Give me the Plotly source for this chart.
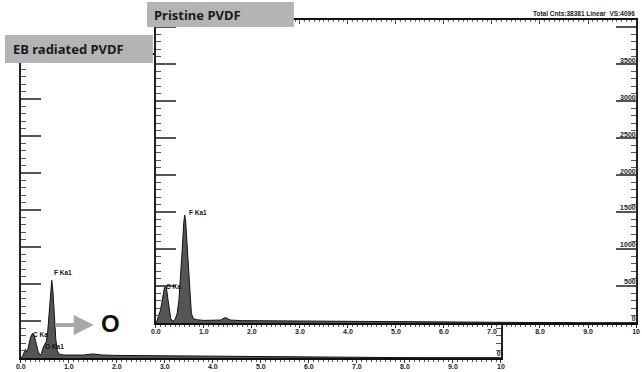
import plotly.graph_objects as go

W, H = 642, 372

# ---------------- data ----------------
# Pristine PVDF spectrum: energy (keV) and counts
pri_energy = [0.00, 0.03, 0.06, 0.09, 0.12, 0.15, 0.18, 0.20, 0.22, 0.25, 0.28, 0.31, 0.34,
              0.37, 0.40, 0.44, 0.48, 0.52, 0.55, 0.58, 0.60, 0.62, 0.65, 0.68, 0.71, 0.74,
              0.78, 0.85, 1.00, 1.20, 1.35, 1.45, 1.55, 1.80, 2.20, 2.80, 3.50, 4.20, 5.00,
              6.00, 7.00, 8.00, 9.00, 10.00]
pri_counts = [0, 40, 110, 160, 260, 390, 480, 510, 480, 330, 160, 60, 30,
              30, 50, 120, 300, 650, 1000, 1350, 1460, 1380, 1050, 650, 320, 130,
              60, 45, 35, 35, 40, 75, 40, 32, 30, 26, 24, 20, 14,
              10, 8, 6, 5, 5]

# EB radiated PVDF spectrum
eb_energy = [0.00, 0.04, 0.08, 0.10, 0.12, 0.15, 0.18, 0.22, 0.25, 0.28, 0.32, 0.36, 0.40,
             0.43, 0.47, 0.50, 0.53, 0.56, 0.59, 0.62, 0.645, 0.67, 0.70, 0.73, 0.76, 0.80,
             0.90, 1.10, 1.30, 1.50, 1.70, 2.00, 2.50, 3.00, 3.50, 4.00, 5.00, 6.00, 7.00,
             8.00, 9.00, 10.00]
eb_counts = [0, 30, 90, 120, 80, 120, 220, 310, 335, 300, 200, 90, 40,
             60, 150, 195, 220, 350, 650, 950, 1050, 900, 550, 250, 100, 50,
             40, 35, 40, 55, 40, 35, 35, 30, 25, 25, 20, 12, 8,
             5, 4, 4]

x_tickvals = [0, 1, 2, 3, 4, 5, 6, 7, 8, 9, 10]
x_ticktext = ["0.0", "1.0", "2.0", "3.0", "4.0", "5.0", "6.0", "7.0", "8.0", "9.0", "10"]
y_tickvals = [0, 500, 1000, 1500, 2000, 2500, 3000, 3500, 4000]
y_ticktext = ["0", "500", "1000", "1500", "2000", "2500", "3000", "3500", ""]

pri_title = "Pristine PVDF"
eb_title = "EB radiated PVDF"
header_text = "Total Cnts:38381 Linear  VS:4096"
# peak labels: (text, energy, counts)
pri_peaks = [("F Ka1", 0.64, 1490), ("C Ka", 0.17, 490)]
eb_peaks = [("F Ka1", 0.65, 1160), ("C Ka", 0.22, 320), ("O Ka1", 0.47, 160)]

# ---------------- helpers (pixel -> paper) ----------------
def px(x):
    return x / W

def py(y):
    return 1 - y / H

tickfont = dict(family="Liberation Sans", size=7, color="#222", weight="bold")

def xaxis_style(dom_l, dom_r, anchor):
    return dict(domain=[px(dom_l), px(dom_r)], range=[0, 10.0001], anchor=anchor,
                tickmode="array", tickvals=x_tickvals, ticktext=x_ticktext,
                ticks="outside", ticklen=3, tickwidth=1, tickcolor="#333",
                minor=dict(tickmode="linear", tick0=0, dtick=0.1, ticks="outside",
                           ticklen=2, tickwidth=1, tickcolor="#555"),
                showline=True, linewidth=2, linecolor="#111",
                showgrid=False, zeroline=False, tickfont=tickfont,
                ticklabelstandoff=-2, ticklabeloverflow="allow")

def yaxis_style(dom_b, dom_t, anchor):
    return dict(domain=[py(dom_b), py(dom_t)], range=[0, 4096], anchor=anchor,
                side="right", tickmode="array", tickvals=y_tickvals, ticktext=y_ticktext,
                ticks="inside", ticklen=20, tickwidth=1.5, tickcolor="#555",
                minor=dict(tickmode="linear", tick0=0, dtick=100, ticks="inside",
                           ticklen=5, tickwidth=1, tickcolor="#555"),
                mirror="ticks", showline=True, linewidth=1.5, linecolor="#222",
                ticklabelposition="inside", ticklabelshift=-4, ticklabelstandoff=-21,
                ticklabeloverflow="allow",
                showgrid=False, zeroline=False, tickfont=tickfont)

fig = go.Figure()
fig.add_trace(go.Scatter(x=eb_energy, y=eb_counts, mode="lines",
                         line=dict(color="#111", width=1), fill="tozeroy",
                         fillcolor="#555555", xaxis="x", yaxis="y", showlegend=False,
                         hoverinfo="skip"))
fig.add_trace(go.Scatter(x=pri_energy, y=pri_counts, mode="lines",
                         line=dict(color="#111", width=1), fill="tozeroy",
                         fillcolor="#555555", xaxis="x2", yaxis="y2", showlegend=False,
                         hoverinfo="skip"))
fig.add_trace(go.Scatter(x=[None], y=[None], mode="lines", xaxis="x3", yaxis="y2",
                         showlegend=False, hoverinfo="skip"))

xa = xaxis_style(16, 503, "y")
xa["mirror"] = True
xa2 = xaxis_style(153, 640, "y2")
xa3 = dict(overlaying="x2", side="top", anchor="y2", range=[0, 10.0001], matches="x2",
           showticklabels=False, tickmode="linear", tick0=0, dtick=1,
           ticks="inside", ticklen=4, tickwidth=1, tickcolor="#444",
           minor=dict(tickmode="linear", tick0=0, dtick=0.1, ticks="inside",
                      ticklen=2, tickwidth=1, tickcolor="#666"),
           showline=True, linewidth=2, linecolor="#111", showgrid=False, zeroline=False)

fig.update_layout(
    width=W, height=H, margin=dict(l=0, r=0, t=0, b=0),
    paper_bgcolor="white", plot_bgcolor="white",
    xaxis=xa, yaxis=yaxis_style(358, 55, "x"),
    xaxis2=xa2, yaxis2=yaxis_style(323, 20, "x2"),
    xaxis3=xa3,
)

shapes = [
    dict(type="rect", xref="paper", yref="paper", x0=px(144), x1=px(293), y0=py(27), y1=py(2),
         fillcolor="#b4b4b4", line=dict(width=0), layer="above"),
    dict(type="rect", xref="paper", yref="paper", x0=px(0), x1=px(150), y0=py(63), y1=py(35),
         fillcolor="#b4b4b4", line=dict(width=0), layer="above"),
]
fig.update_layout(shapes=shapes)

ann = []
labfont = dict(family="Noto Sans", size=13, color="#1a1a1a", weight="bold")
ann.append(dict(text=pri_title, xref="paper", yref="paper", x=px(149), y=py(15),
                xanchor="left", yanchor="middle", showarrow=False, font=labfont))
ann.append(dict(text=eb_title, xref="paper", yref="paper", x=px(6), y=py(49),
                xanchor="left", yanchor="middle", showarrow=False, font=labfont))
ann.append(dict(text=header_text, xref="paper", yref="paper", x=px(533), y=py(14),
                xanchor="left", yanchor="middle", showarrow=False,
                font=dict(family="Liberation Sans", size=6.5, color="#222", weight="bold")))
pkfont = dict(family="Liberation Sans", size=6.5, color="#111", weight="bold")
for t, e, c in pri_peaks:
    ann.append(dict(text=t, xref="x2", yref="y2", x=e, y=c, xanchor="left",
                    yanchor="middle", showarrow=False, font=pkfont))
for t, e, c in eb_peaks:
    ann.append(dict(text=t, xref="x", yref="y", x=e, y=c, xanchor="left",
                    yanchor="middle", showarrow=False, font=pkfont))
# arrow pointing to the big "O"
ann.append(dict(text="", xref="paper", yref="paper", x=px(90), y=py(325),
                ax=-40, ay=0, showarrow=True, arrowhead=2, arrowsize=1.0,
                arrowwidth=4, arrowcolor="#a8a8a8"))
ann.append(dict(text="O", xref="paper", yref="paper", x=px(107), y=py(323),
                xanchor="center", yanchor="middle", showarrow=False,
                font=dict(family="Liberation Sans", size=24, color="#111", weight="bold")))
fig.update_layout(annotations=ann)

fig.write_html("out.html")
